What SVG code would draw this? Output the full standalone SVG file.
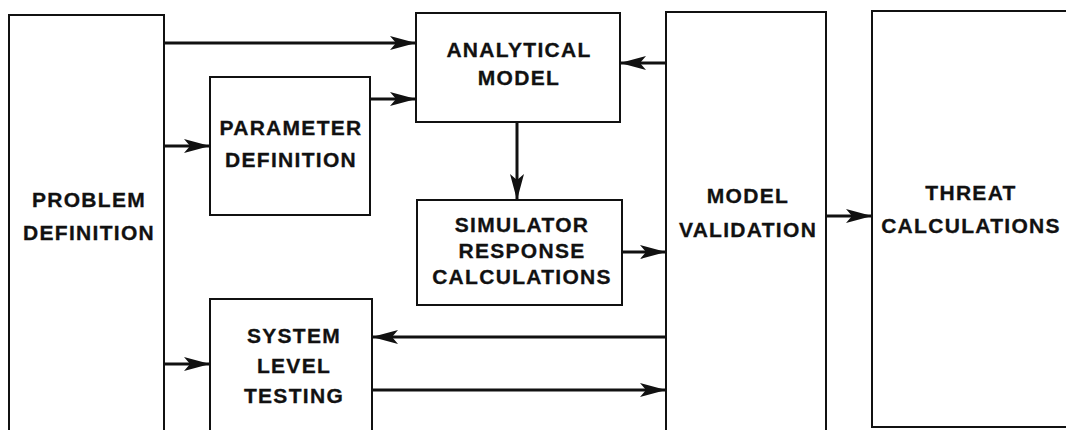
<svg xmlns="http://www.w3.org/2000/svg" width="1066" height="430" viewBox="0 0 1066 430">
<style>
.box{fill:#fff;stroke:#111;stroke-width:2}
.t{font-family:"Liberation Sans",Arial,sans-serif;font-weight:bold;font-size:21px;letter-spacing:1.3px;fill:#111;stroke:#111;stroke-width:0.3;text-anchor:middle}
.c{stroke:#111;stroke-width:3;fill:none;marker-end:url(#ah)}
</style>
<defs>
<marker id="ah" markerUnits="userSpaceOnUse" markerWidth="28" markerHeight="14" refX="26" refY="7" orient="auto">
<path d="M0,0 L26,7 L0,14 L6,7 Z" fill="#111"/>
</marker>
</defs>
<rect width="1066" height="430" fill="#fff"/>
<g id="problem"><rect class="box" x="9" y="15" width="155" height="430"/>
<text class="t" x="89" y="207">PROBLEM</text><text class="t" x="89" y="240">DEFINITION</text></g>
<g id="parameter"><rect class="box" x="210" y="77" width="160" height="138"/>
<text class="t" x="291" y="135">PARAMETER</text><text class="t" x="291" y="167">DEFINITION</text></g>
<g id="analytical"><rect class="box" x="416" y="13" width="204" height="109"/>
<text class="t" x="519" y="57">ANALYTICAL</text><text class="t" x="519" y="85">MODEL</text></g>
<g id="simulator"><rect class="box" x="417" y="200" width="205" height="105"/>
<text class="t" x="522" y="232">SIMULATOR</text><text class="t" x="522" y="258">RESPONSE</text><text class="t" x="522" y="284">CALCULATIONS</text></g>
<g id="system"><rect class="box" x="210" y="299" width="162" height="150"/>
<text class="t" x="294" y="343">SYSTEM</text><text class="t" x="294" y="373">LEVEL</text><text class="t" x="294" y="403">TESTING</text></g>
<g id="validation"><rect class="box" x="666" y="12" width="160" height="440"/>
<text class="t" x="748" y="203">MODEL</text><text class="t" x="748" y="237">VALIDATION</text></g>
<g id="threat"><rect class="box" x="872" y="11" width="210" height="416"/>
<text class="t" x="971" y="200">THREAT</text><text class="t" x="971" y="233">CALCULATIONS</text></g>
<g id="connectors">
<line class="c" x1="164" y1="43" x2="416" y2="43"/>
<line class="c" x1="370" y1="99" x2="416" y2="99"/>
<line class="c" x1="164" y1="146" x2="210" y2="146"/>
<line class="c" x1="164" y1="364" x2="210" y2="364"/>
<line class="c" x1="666" y1="63" x2="620" y2="63"/>
<line class="c" x1="517" y1="122" x2="517" y2="200"/>
<line class="c" x1="622" y1="252" x2="666" y2="252"/>
<line class="c" x1="666" y1="337" x2="372" y2="337"/>
<line class="c" x1="372" y1="390" x2="666" y2="390"/>
<line class="c" x1="826" y1="216" x2="872" y2="216"/>
</g>
</svg>
